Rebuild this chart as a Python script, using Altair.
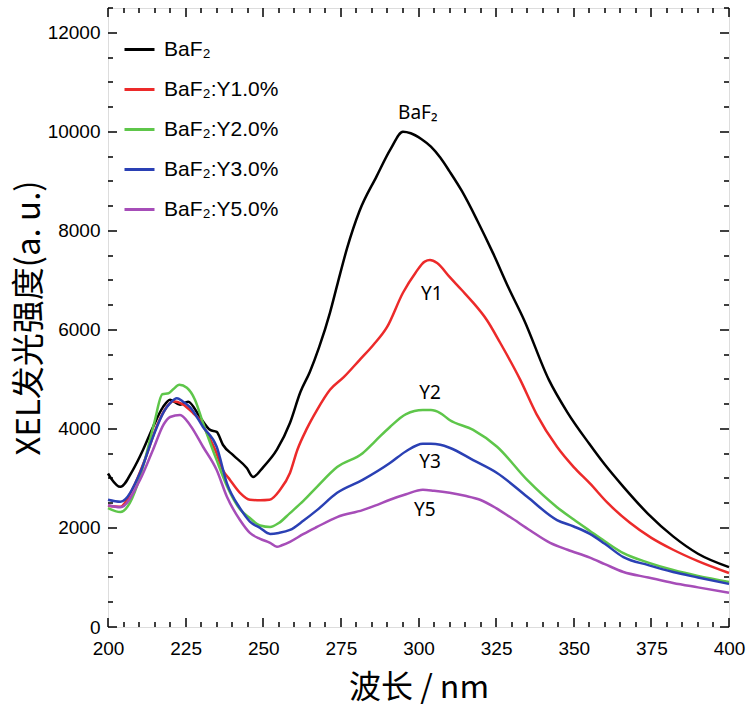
import altair as alt
import pandas as pd

series_names = ["BaF₂", "BaF₂:Y1.0%", "BaF₂:Y2.0%", "BaF₂:Y3.0%", "BaF₂:Y5.0%"]
series_colors = ["#000000", "#ec2a2a", "#5ec64a", "#2a40b4", "#a64db8"]

baf2_x = [200, 201, 204, 208, 211.3, 214.5, 217.7, 220, 223.2, 225.8, 229.6, 232.9, 235, 237, 240.3, 244.7, 246.7,
          250, 254.4, 258.6, 262, 265, 268, 271.5, 274, 277, 281, 286.5, 291, 295, 297.5, 301, 304, 307, 310, 314,
          319, 324, 329, 334, 342, 348, 355, 360, 366, 374, 382, 390, 400]
baf2_y = [3100, 3000, 2830, 3170, 3580, 4040, 4440, 4590, 4490, 4550, 4240, 3980, 3940, 3680, 3470, 3210, 3030,
          3230, 3580, 4120, 4750, 5150, 5650, 6350, 6950, 7650, 8400, 9100, 9650, 10000, 9970, 9850, 9700, 9480, 9200,
          8800, 8200, 7550, 6850, 6200, 4990, 4330, 3700, 3280, 2830, 2280, 1830, 1480, 1210]

y1_x = [200, 204, 208, 212, 216, 219, 221, 224, 227.4, 229.6, 232, 234.5, 237, 239.3, 242.5, 245.7, 249, 252,
        255.4, 258.6, 261, 264, 267.3, 271.5, 276, 281, 285.5, 289.9, 295, 299, 302, 303.7, 306, 310, 314, 317.6,
        322, 326.3, 332.7, 338, 344.6, 350, 355.2, 361, 368, 375, 382, 390, 400]
y1_y = [2450, 2430, 2800, 3400, 4100, 4450, 4560, 4500, 4320, 4180, 3900, 3580, 3170, 2970, 2710, 2570, 2560, 2570,
        2770, 3110, 3580, 4000, 4380, 4790, 5050, 5390, 5700, 6060, 6750, 7150, 7380, 7410, 7350, 7070, 6800, 6550,
        6200, 5740, 5000, 4300, 3640, 3230, 2900, 2500, 2110, 1800, 1560, 1330, 1090]

y2_x = [200, 204, 207, 210.3, 212, 215, 217.5, 219.5, 221, 223, 225.4, 228, 230.6, 235, 238.3, 242.5, 245.7, 249,
        252.2, 255, 258.6, 263, 267.3, 273.8, 282, 286, 290.8, 296, 301.4, 304, 307, 310, 317.6, 325.3, 335, 344.6,
        350, 355.2, 360, 366, 374, 382, 390, 400]
y2_y = [2400, 2320, 2500, 3030, 3400, 4150, 4700, 4720, 4800, 4890, 4830, 4590, 4120, 3370, 2850, 2380, 2200, 2050,
        2020, 2100, 2300, 2550, 2830, 3230, 3510, 3750, 4040, 4300, 4380, 4380, 4320, 4180, 3980, 3640, 2970, 2420,
        2170, 1940, 1730, 1490, 1300, 1150, 1030, 910]

y3_x = [200, 204, 210.3, 214.5, 218, 220, 222.2, 224, 226.4, 230.6, 235, 238.3, 242.5, 245.7, 249, 252.2, 255,
        258.6, 263, 267.3, 273.8, 282, 290.8, 296, 301.4, 304, 307, 310, 317.6, 325.3, 335, 344.6, 350, 355.2, 360,
        366, 374, 382, 390, 400]
y3_y = [2570, 2530, 3110, 3840, 4350, 4520, 4620, 4560, 4440, 4040, 3640, 2900, 2400, 2130, 2000, 1880, 1900,
        1960, 2150, 2360, 2710, 2970, 3310, 3550, 3700, 3700, 3680, 3620, 3370, 3110, 2630, 2160, 2030, 1880, 1680,
        1410, 1250, 1110, 1000, 870]

y5_x = [200, 204, 210.3, 214.5, 218, 220, 223.2, 226.4, 230.6, 235, 238.3, 242.5, 245.7, 249, 252.2, 254.4, 256,
        258.6, 263, 267.3, 273.8, 282, 286, 290.8, 296, 301.4, 305, 310, 315, 319.8, 325, 329.5, 336, 342.4, 348,
        355.2, 360, 366, 374, 382, 390, 400]
y5_y = [2460, 2420, 2970, 3580, 4100, 4240, 4280, 4080, 3640, 3170, 2630, 2160, 1900, 1780, 1700, 1620, 1650,
        1720, 1880, 2020, 2220, 2360, 2450, 2570, 2680, 2770, 2750, 2710, 2650, 2570, 2400, 2220, 1950, 1700, 1560,
        1400, 1270, 1110, 1000, 890, 800, 690]

ann_labels = ["BaF₂", "Y1", "Y2", "Y3", "Y5"]
ann_x = [299.8, 304.3, 303.7, 303.7, 302.0]
ann_y = [10383, 6734, 4718, 3327, 2359]

x_label_values = [200, 225, 250, 275, 300, 325, 350, 375, 400]
y_label_values = [0, 2000, 4000, 6000, 8000, 10000, 12000]
x_minor = [v for v in range(200, 401, 5) if v % 25 != 0]
y_minor = [v for v in range(0, 12501, 500) if v % 2000 != 0]

rows = []
for name, xs_, ys_ in zip(series_names, [baf2_x, y1_x, y2_x, y3_x, y5_x], [baf2_y, y1_y, y2_y, y3_y, y5_y]):
    for a, b in zip(xs_, ys_):
        rows.append({"series": name, "wl": a, "v": b})
df = pd.DataFrame(rows)
ann = pd.DataFrame({"label": ann_labels, "wl": ann_x, "v": ann_y})

W, H = 621, 619
xsc = alt.Scale(domain=[200, 400], nice=False, zero=False)
ysc = alt.Scale(domain=[0, 12500], nice=False, zero=False)

x_axis = alt.Axis(values=x_label_values, format="d", ticks=False, domain=False, grid=False, labelFlush=False,
                  title="波长 / nm", labelFont="Liberation Sans", labelFontSize=19,
                  labelColor="black", labelPadding=12, titleFont="Noto Sans CJK SC",
                  titleFontSize=32, titleFontWeight="normal", titleColor="black",
                  titlePadding=14)
y_axis = alt.Axis(values=y_label_values, format="d", ticks=False, domain=False, grid=False, labelFlush=False,
                  title="XEL发光强度(a. u.)", labelFont="Liberation Sans", labelFontSize=19,
                  labelColor="black", labelPadding=8, titleFont="Noto Sans CJK SC",
                  titleFontSize=33, titleFontWeight="normal", titleColor="black",
                  titlePadding=1)

lines = alt.Chart(df).mark_line(strokeWidth=2.5, interpolate="monotone").encode(
    x=alt.X("wl:Q", scale=xsc, axis=x_axis),
    y=alt.Y("v:Q", scale=ysc, axis=y_axis),
    color=alt.Color("series:N", scale=alt.Scale(domain=series_names, range=series_colors),
                    legend=alt.Legend(title=None, orient="none", legendX=15, legendY=25, symbolType="stroke",
                                      symbolSize=900, symbolStrokeWidth=3, labelFont="Liberation Sans",
                                      labelFontSize=21, labelColor="black", labelOffset=8, rowPadding=13,
                                      padding=0)),
)

texts = alt.Chart(ann).mark_text(font="Noto Sans", fontSize=19, color="black").encode(
    x=alt.X("wl:Q", scale=xsc, axis=None),
    y=alt.Y("v:Q", scale=ysc, axis=None),
    text="label:N",
)


def tick_axis(vals, orient, length):
    # shift the axis group into the plot so that its (outward) ticks end on the frame
    shift = length if orient in ("left", "top") else -length
    return alt.Axis(values=vals, orient=orient, translate=shift, tickOffset=-shift, tickSize=length,
                    tickWidth=1.5, tickColor="black", ticks=True, labels=False, domain=False, grid=False,
                    title=None)


def x_tick_layer(vals, orient, length):
    d = pd.DataFrame({"t": vals})
    return alt.Chart(d).mark_point(opacity=0, size=1).encode(
        x=alt.X("t:Q", scale=xsc, axis=tick_axis(vals, orient, length)))


def y_tick_layer(vals, orient, length):
    d = pd.DataFrame({"t": vals})
    return alt.Chart(d).mark_point(opacity=0, size=1).encode(
        y=alt.Y("t:Q", scale=ysc, axis=tick_axis(vals, orient, length)))


tick_layers = [
    x_tick_layer(x_label_values, "bottom", 9), x_tick_layer(x_minor, "bottom", 5),
    x_tick_layer(x_label_values, "top", 9), x_tick_layer(x_minor, "top", 5),
    y_tick_layer(y_label_values, "left", 9), y_tick_layer(y_minor, "left", 5),
    y_tick_layer(y_label_values, "right", 9), y_tick_layer(y_minor, "right", 5),
]

chart = alt.layer(lines, texts, *tick_layers).resolve_axis(x="independent", y="independent").properties(
    width=W, height=H,
    autosize=alt.AutoSizeParams(type="none"),
    padding={"left": 108, "top": 8, "right": 20, "bottom": 81},
).configure_view(stroke="black", strokeWidth=2).configure(background="white")

chart.save("out.html", embed_options={"renderer": "svg", "actions": False})
